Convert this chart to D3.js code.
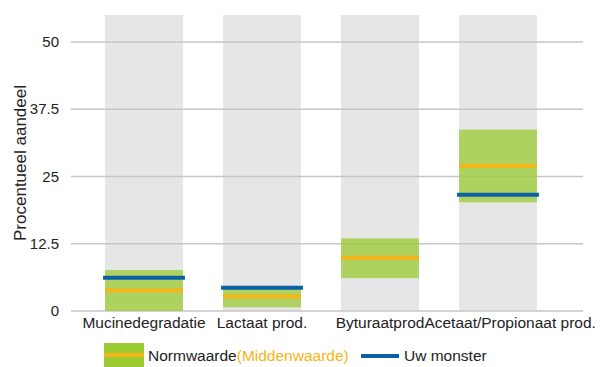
<!DOCTYPE html>
<html>
<head>
<meta charset="utf-8">
<script src="https://cdn.jsdelivr.net/npm/d3@7"></script>
<style>
  html, body { margin: 0; padding: 0; background: #fff; }
  svg { display: block; font-family: "Liberation Sans", Arial, sans-serif; }
</style>
</head>
<body>
<svg id="chart" width="602" height="367"></svg>
<script>
// Categories and values (percent share)
const categories = ["Mucinedegradatie", "Lactaat prod.", "Byturaatprod", "Acetaat/Propionaat prod."];
const normLow  = [0,   0.7, 6.1, 20.2];
const normHigh = [7.6, 4.1, 13.5, 33.7];
const normMid  = [3.8, 2.7, 9.9, 27.0];
const sample   = [6.2, 4.3, null, 21.6];
const yTicks = [0, 12.5, 25, 37.5, 50];
const yMax = 55;

const colors = {
  column: "#e6e6e6",
  norm: "#9bcb32",
  mid: "#f5b417",
  sample: "#0b61a8",
  grid: "#c6c6c6",
  text: "#222222"
};

const svg = d3.select("#chart");
const gridLeft = 71, gridRight = 583;

const x = d3.scaleBand()
  .domain(categories)
  .range([85, 557])
  .paddingInner(0.34)
  .paddingOuter(0.17);

const y = d3.scaleLinear().domain([0, yMax]).range([311, 15]);

const rows = categories.map((c, i) => ({
  cat: c, lo: normLow[i], hi: normHigh[i], mid: normMid[i], val: sample[i]
}));

// Background columns spanning the full value range
svg.append("g").selectAll("rect")
  .data(rows).join("rect")
  .attr("x", d => x(d.cat))
  .attr("width", x.bandwidth())
  .attr("y", y(yMax))
  .attr("height", y(0) - y(yMax))
  .attr("fill", colors.column);

// Horizontal gridlines
svg.append("g").selectAll("line")
  .data(yTicks).join("line")
  .attr("x1", gridLeft).attr("x2", gridRight)
  .attr("y1", d => y(d)).attr("y2", d => y(d))
  .attr("stroke", colors.grid)
  .attr("stroke-width", 1.5);

// Y tick labels
svg.append("g").selectAll("text")
  .data(yTicks).join("text")
  .attr("x", 59)
  .attr("y", d => y(d))
  .attr("dy", "0.35em")
  .attr("text-anchor", "end")
  .attr("font-size", "15px")
  .attr("fill", colors.text)
  .text(d => d);

// Normal range boxes
svg.append("g").selectAll("rect")
  .data(rows).join("rect")
  .attr("x", d => x(d.cat))
  .attr("width", x.bandwidth())
  .attr("y", d => y(d.hi))
  .attr("height", d => y(d.lo) - y(d.hi))
  .attr("fill", colors.norm)
  .attr("fill-opacity", 0.75);

// Midpoint lines
svg.append("g").selectAll("line")
  .data(rows).join("line")
  .attr("x1", d => x(d.cat))
  .attr("x2", d => x(d.cat) + x.bandwidth())
  .attr("y1", d => y(d.mid)).attr("y2", d => y(d.mid))
  .attr("stroke", colors.mid)
  .attr("stroke-width", 4);

// Sample value lines
svg.append("g").selectAll("line")
  .data(rows.filter(d => d.val != null)).join("line")
  .attr("x1", d => x(d.cat) - 2)
  .attr("x2", d => x(d.cat) + x.bandwidth() + 2)
  .attr("y1", d => y(d.val)).attr("y2", d => y(d.val))
  .attr("stroke", colors.sample)
  .attr("stroke-width", 4);

// Category labels: centred under each band, pushed right if they would overlap
const labelG = svg.append("g");
let prevRight = -Infinity;
categories.forEach(c => {
  const t = labelG.append("text")
    .attr("y", 328)
    .attr("font-size", "15.5px")
    .attr("fill", colors.text)
    .attr("text-anchor", "middle")
    .text(c);
  const w = t.node().getComputedTextLength();
  let cx = x(c) + x.bandwidth() / 2;
  if (cx - w / 2 < prevRight) cx = prevRight + w / 2;
  t.attr("x", cx);
  prevRight = cx + w / 2;
});

// Y axis title
svg.append("text")
  .attr("transform", `translate(26,${163}) rotate(-90)`)
  .attr("text-anchor", "middle")
  .attr("font-size", "17px")
  .attr("fill", colors.text)
  .text("Procentueel aandeel");

// Legend
const lg = svg.append("g");
lg.append("rect")
  .attr("x", 104).attr("y", 343).attr("width", 40).attr("height", 26)
  .attr("fill", colors.norm);
lg.append("line")
  .attr("x1", 104).attr("x2", 144).attr("y1", 355).attr("y2", 355)
  .attr("stroke", colors.mid).attr("stroke-width", 4);
const lt = lg.append("text")
  .attr("x", 148).attr("y", 361)
  .attr("font-size", "15.5px")
  .attr("fill", colors.text);
lt.append("tspan").text("Normwaarde");
lt.append("tspan").attr("fill", colors.mid).text("(Middenwaarde)");
lg.append("line")
  .attr("x1", 361).attr("x2", 399).attr("y1", 356).attr("y2", 356)
  .attr("stroke", colors.sample).attr("stroke-width", 4);
lg.append("text")
  .attr("x", 404).attr("y", 361)
  .attr("font-size", "15.5px")
  .attr("fill", colors.text)
  .text("Uw monster");
</script>
</body>
</html>
